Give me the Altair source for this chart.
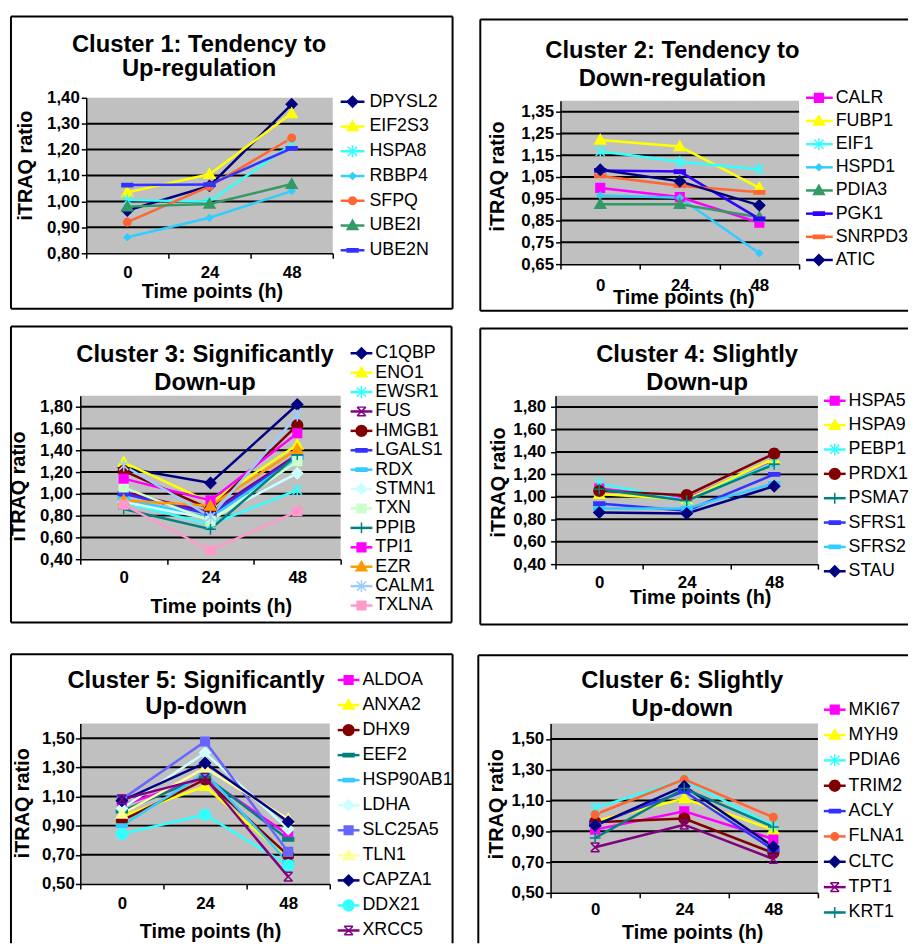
import math
import altair as alt
import pandas as pd

FONT = "Liberation Sans, Arial, sans-serif"
GREY = "#C0C0C0"

time_labels = ["0", "24", "48"]

# ---------------- Cluster 1 ----------------
c1_title = ["Cluster 1: Tendency to", "Up-regulation"]
c1_genes = ["DPYSL2", "EIF2S3", "HSPA8", "RBBP4", "SFPQ", "UBE2I", "UBE2N"]
c1_t0 = [0.965, 1.035, 1.005, 0.862, 0.920, 0.980, 1.063]
c1_t24 = [1.060, 1.105, 1.000, 0.937, 1.058, 0.990, 1.065]
c1_t48 = [1.375, 1.340, 1.220, 1.040, 1.245, 1.067, 1.205]
c1_ydomain = [0.80, 1.40]
c1_yticks = [0.80, 0.90, 1.00, 1.10, 1.20, 1.30, 1.40]
c1_colors = ["#000080", "#FFFF00", "#33FFFF", "#33CCFF", "#FF6633", "#339966", "#3333FF"]
c1_markers = ["diamond", "triangle", "asterisk", "sdiamond", "circle", "triangle", "dash"]

# ---------------- Cluster 2 ----------------
c2_title = ["Cluster 2: Tendency to", "Down-regulation"]
c2_genes = ["CALR", "FUBP1", "EIF1", "HSPD1", "PDIA3", "PGK1", "SNRPD3", "ATIC"]
c2_t0 = [1.000, 1.220, 1.168, 0.965, 0.925, 1.080, 1.055, 1.083]
c2_t24 = [0.958, 1.190, 1.120, 0.955, 0.925, 1.075, 1.010, 1.030]
c2_t48 = [0.840, 1.000, 1.086, 0.700, 0.865, 0.858, 0.980, 0.920]
c2_ydomain = [0.65, 1.40]
c2_yticks = [0.65, 0.75, 0.85, 0.95, 1.05, 1.15, 1.25, 1.35]
c2_colors = ["#FF00FF", "#FFFF00", "#33FFFF", "#33CCFF", "#339966", "#3300FF", "#FF6633", "#000080"]
c2_markers = ["square", "triangle", "asterisk", "sdiamond", "triangle", "dash", "dash", "diamond"]

# ---------------- Cluster 3 ----------------
c3_title = ["Cluster 3: Significantly", "Down-up"]
c3_genes = ["C1QBP", "ENO1", "EWSR1", "FUS", "HMGB1", "LGALS1", "RDX",
            "STMN1", "TXN", "PPIB", "TPI1", "EZR", "CALM1", "TXLNA"]
c3_t0 = [1.24, 1.29, 0.92, 1.015, 1.21, 1.00, 0.955, 0.925, 1.06, 0.86, 1.14, 0.94, 1.26, 0.90]
c3_t24 = [1.10, 0.92, 0.72, 0.83, 0.86, 0.81, 0.78, 0.77, 0.75, 0.675, 0.94, 0.89, 0.79, 0.48]
c3_t48 = [1.82, 1.45, 1.035, 1.36, 1.63, 1.34, 1.33, 1.19, 1.30, 1.36, 1.556, 1.41, 1.72, 0.84]
c3_ydomain = [0.40, 1.90]
c3_yticks = [0.40, 0.60, 0.80, 1.00, 1.20, 1.40, 1.60, 1.80]
c3_colors = ["#000080", "#FFFF00", "#33FFFF", "#800080", "#800000", "#3333FF", "#33CCFF",
             "#CCFFFF", "#CCFFCC", "#008080", "#FF00FF", "#FF9900", "#99CCFF", "#FF99CC"]
c3_markers = ["diamond", "triangle", "asterisk", "xbar", "bigcircle", "dash", "dash",
              "diamond", "square", "plus", "square", "triangle", "asterisk", "square"]

# ---------------- Cluster 4 ----------------
c4_title = ["Cluster 4: Slightly", "Down-up"]
c4_genes = ["HSPA5", "HSPA9", "PEBP1", "PRDX1", "PSMA7", "SFRS1", "SFRS2", "STAU"]
c4_t0 = [1.074, 1.024, 1.120, 1.053, 1.068, 0.940, 0.896, 0.860]
c4_t24 = [0.985, 0.976, 0.965, 1.015, 0.965, 0.876, 0.896, 0.852]
c4_t48 = [1.326, 1.340, 1.305, 1.385, 1.290, 1.200, 1.120, 1.095]
c4_ydomain = [0.40, 1.90]
c4_yticks = [0.40, 0.60, 0.80, 1.00, 1.20, 1.40, 1.60, 1.80]
c4_colors = ["#FF00FF", "#FFFF00", "#33FFFF", "#800000", "#008080", "#3333FF", "#33CCFF", "#000080"]
c4_markers = ["square", "triangle", "asterisk", "bigcircle", "plus", "dash", "dash", "diamond"]

# ---------------- Cluster 5 ----------------
c5_title = ["Cluster 5: Significantly", "Up-down"]
c5_genes = ["ALDOA", "ANXA2", "DHX9", "EEF2", "HSP90AB1", "LDHA", "SLC25A5",
            "TLN1", "CAPZA1", "DDX21", "XRCC5"]
c5_t0 = [1.040, 0.963, 0.934, 1.000, 0.900, 1.018, 1.080, 0.980, 1.070, 0.843, 1.080]
c5_t24 = [1.230, 1.170, 1.217, 1.240, 1.260, 1.400, 1.477, 1.296, 1.330, 0.975, 1.228]
c5_t48 = [0.837, 0.674, 0.696, 0.805, 0.650, 0.877, 0.720, 0.945, 0.927, 0.628, 0.550]
c5_ydomain = [0.50, 1.60]
c5_yticks = [0.50, 0.70, 0.90, 1.10, 1.30, 1.50]
c5_colors = ["#FF00FF", "#FFFF00", "#800000", "#008080", "#33CCFF", "#CCFFFF",
             "#6666FF", "#FFFF99", "#000080", "#33FFFF", "#800080"]
c5_markers = ["square", "triangle", "bigcircle", "dash", "dash", "diamond",
              "square", "triangle", "diamond", "bigcircle", "xbar"]

# ---------------- Cluster 6 ----------------
c6_title = ["Cluster 6: Slightly", "Up-down"]
c6_genes = ["MKI67", "MYH9", "PDIA6", "TRIM28", "ACLY", "FLNA1", "CLTC", "TPT1", "KRT1"]
c6_t0 = [0.911, 0.965, 1.052, 0.959, 0.943, 1.009, 0.937, 0.796, 0.857]
c6_t24 = [1.030, 1.113, 1.233, 0.983, 1.160, 1.237, 1.193, 0.943, 1.178]
c6_t48 = [0.850, 0.910, 0.933, 0.759, 0.780, 0.991, 0.800, 0.720, 0.928]
c6_ydomain = [0.50, 1.60]
c6_yticks = [0.50, 0.70, 0.90, 1.10, 1.30, 1.50]
c6_colors = ["#FF00FF", "#FFFF00", "#33FFFF", "#800000", "#3333FF", "#FF6633",
             "#000080", "#800080", "#008080"]
c6_markers = ["square", "triangle", "asterisk", "bigcircle", "dash", "circle",
              "diamond", "xbar", "plus"]


# ---------------- marker glyphs (style) ----------------
def ngon(r, n=12):
    pts = [(r * math.cos(2 * math.pi * k / n), r * math.sin(2 * math.pi * k / n)) for k in range(n)]
    return "M" + "L".join(f"{x:.3f},{y:.3f}" for x, y in pts) + "Z"


MARKERS = {
    "diamond": "M0,-1L1,0L0,1L-1,0Z",
    "sdiamond": "M0,-0.6L0.6,0L0,0.6L-0.6,0Z",
    "triangle": "M0,-1L1,0.75L-1,0.75Z",
    "square": "M-0.8,-0.8L0.8,-0.8L0.8,0.8L-0.8,0.8Z",
    "circle": ngon(0.7),
    "bigcircle": ngon(1.0),
    "asterisk": "M-0.85,-0.85L0.85,0.85M-0.85,0.85L0.85,-0.85M0,-1.1L0,1.1",
    "plus": "M-1,0L1,0M0,-1L0,1",
    "dash": "M-1,-0.3L1,-0.3L1,0.3L-1,0.3Z",
    "xbar": "M-0.8,-0.8L0.8,0.8M-0.8,0.8L0.8,-0.8M-0.8,-0.8L0.8,-0.8M-0.8,0.8L0.8,0.8",
}

# ---------------- layout (page pixel geometry) ----------------
VX = [10, 482]
VW = [472, 434]
VY = [12, 320, 652]
VH = [308, 332, 296]

GEO = [
    dict(cell=(0, 0), border=(10, 12, 456, 307), sides="ltrb", grey=(86, 94, 335, 251),
         ylabpad=2, ytitle=(25, 162), xlabpad=8, xtitle=(213, 296), title=(200, 48, 72),
         legend=(98, 25.0, 343, 367, 355, 372), limit=0),
    dict(cell=(1, 0), border=(484, 15, None, 309), sides="ltb", grey=(565, 97, 806, 262),
         ylabpad=2, ytitle=(501, 173), xlabpad=10, xtitle=(689, 302), title=(678, 54, 82),
         legend=(94, 23.4, 813, 840, 826, 843), limit=75),
    dict(cell=(0, 1), border=(10, 325, 455, 624), sides="ltrb", grey=(80, 395, 343, 560),
         ylabpad=3, ytitle=(18, 486), xlabpad=7, xtitle=(222, 614), title=(206, 361, 389),
         legend=(352, 19.6, 353, 375, 364, 378), limit=0),
    dict(cell=(1, 1), border=(484, 327, None, 626), sides="ltb", grey=(560, 395, 825, 565),
         ylabpad=5, ytitle=(502, 482), xlabpad=7, xtitle=(706, 605), title=(703, 361, 389),
         legend=(400, 24.6, 831, 853, 842, 856), limit=62),
    dict(cell=(0, 2), border=(10, 656, 456, None), sides="ltr", grey=(80, 726, 332, 888),
         ylabpad=1, ytitle=(22, 806), xlabpad=8, xtitle=(211, 942), title=(197, 690, 716),
         legend=(682, 25.3, 340, 362, 351, 365), limit=0),
    dict(cell=(1, 2), border=(482, 657, None, None), sides="lt", grey=(555, 726, 825, 897),
         ylabpad=2, ytitle=(500, 807), xlabpad=5, xtitle=(698, 943), title=(688, 690, 718),
         legend=(712, 25.6, 831, 853, 842, 856), limit=62),
]

PANELS = [
    dict(title=c1_title, genes=c1_genes, t0=c1_t0, t24=c1_t24, t48=c1_t48, ydomain=c1_ydomain,
         yticks=c1_yticks, colors=c1_colors, markers=c1_markers),
    dict(title=c2_title, genes=c2_genes, t0=c2_t0, t24=c2_t24, t48=c2_t48, ydomain=c2_ydomain,
         yticks=c2_yticks, colors=c2_colors, markers=c2_markers),
    dict(title=c3_title, genes=c3_genes, t0=c3_t0, t24=c3_t24, t48=c3_t48, ydomain=c3_ydomain,
         yticks=c3_yticks, colors=c3_colors, markers=c3_markers),
    dict(title=c4_title, genes=c4_genes, t0=c4_t0, t24=c4_t24, t48=c4_t48, ydomain=c4_ydomain,
         yticks=c4_yticks, colors=c4_colors, markers=c4_markers),
    dict(title=c5_title, genes=c5_genes, t0=c5_t0, t24=c5_t24, t48=c5_t48, ydomain=c5_ydomain,
         yticks=c5_yticks, colors=c5_colors, markers=c5_markers),
    dict(title=c6_title, genes=c6_genes, t0=c6_t0, t24=c6_t24, t48=c6_t48, ydomain=c6_ydomain,
         yticks=c6_yticks, colors=c6_colors, markers=c6_markers),
]

X_LABEL_EXPR = " : ".join(f"datum.value === {i} ? '{lab}'" for i, lab in enumerate(time_labels)) + " : ''"

TICK_FS = 17
TITLE_FS = 24
LEGEND_FS = 18
MARK_SIZE = 120


def panel_chart(p, g):
    col, row = g["cell"]
    ox, oy, W, H = VX[col], VY[row], VW[col], VH[row]
    gx0, gy0, gx1, gy1 = g["grey"]
    gx0, gx1 = gx0 - ox, gx1 - ox
    gy0, gy1 = gy0 - oy, gy1 - oy
    genes = p["genes"]
    n = len(genes)
    ymin, ymax = p["ydomain"]

    xs = alt.Scale(domain=[-0.5, 2.5], range=[gx0, gx1], nice=False, zero=False)
    ys = alt.Scale(domain=[ymin, ymax], range=[gy1, gy0], nice=False, zero=False)
    cs = alt.Scale(domain=genes, range=p["colors"])
    ss = alt.Scale(domain=genes, range=[MARKERS[m] for m in p["markers"]])

    xax = alt.Axis(
        values=[-0.5, 0, 0.5, 1, 1.5, 2, 2.5], labelExpr=X_LABEL_EXPR, orient="bottom",
        offset=gy1 - H, tickSize=5, tickColor="black", tickWidth=1.5,
        tickOpacity={"condition": {"test": "datum.value % 1 === 0", "value": 0}, "value": 1},
        domainColor="black", domainWidth=1.5, grid=False,
        labelFont=FONT, labelFontSize=TICK_FS, labelFontWeight="bold", labelColor="black",
        labelPadding=g["xlabpad"] - 1, labelOverlap=False, labelFlush=False, labelAngle=0,
        title="Time points (h)", titleFont=FONT, titleFontSize=20, titleFontWeight="bold",
        titleColor="black", titleAngle=0, titleAlign="center", titleBaseline="alphabetic",
        titleX=g["xtitle"][0] - ox, titleY=g["xtitle"][1] - oy - gy1, zindex=1,
    )
    yax = alt.Axis(
        values=p["yticks"], labelExpr="replace(format(datum.value, '.2f'), '.', ',')",
        orient="left", offset=-gx0, tickSize=5, tickColor="black", tickWidth=1.5,
        domainColor="black", domainWidth=1.5, grid=False,
        labelFont=FONT, labelFontSize=TICK_FS, labelFontWeight="bold", labelColor="black",
        labelPadding=g["ylabpad"], labelOverlap=False, labelFlush=False,
        title="iTRAQ ratio", titleFont=FONT, titleFontSize=20, titleFontWeight="bold",
        titleColor="black", titleAngle=270, titleAlign="center", titleBaseline="middle",
        titleX=g["ytitle"][0] - ox - gx0, titleY=g["ytitle"][1] - oy, zindex=1,
    )

    one = pd.DataFrame({"k": [0]})
    grey = alt.Chart(one).mark_rect(color=GREY).encode(
        x=alt.XDatum(-0.5, type="quantitative", scale=xs, axis=xax),
        x2=alt.X2Datum(2.5),
        y=alt.YDatum(ymin, type="quantitative", scale=ys, axis=yax),
        y2=alt.Y2Datum(ymax),
    )
    gvals = [v for v in p["yticks"] if ymin + 1e-9 < v < ymax - 1e-9]
    grid = alt.Chart(pd.DataFrame({"gv": gvals})).mark_rule(color="black", strokeWidth=2).encode(
        x=alt.XDatum(-0.5, type="quantitative", scale=xs, axis=xax),
        x2=alt.X2Datum(2.5),
        y=alt.Y("gv:Q", scale=ys, axis=yax),
    )
    long = pd.DataFrame({
        "gene": genes * 3,
        "ti": [0] * n + [1] * n + [2] * n,
        "val": p["t0"] + p["t24"] + p["t48"],
    })
    xenc = alt.X("ti:Q", scale=xs, axis=xax)
    yenc = alt.Y("val:Q", scale=ys, axis=yax)
    color = alt.Color("gene:N", scale=cs, legend=None)
    stroke = alt.Stroke("gene:N", scale=cs, legend=None)
    shape = alt.Shape("gene:N", scale=ss, legend=None)
    lines = alt.Chart(long).mark_line(strokeWidth=2.5).encode(x=xenc, y=yenc, color=color)
    pts = alt.Chart(long).mark_point(filled=True, size=MARK_SIZE, strokeWidth=1.5, opacity=1).encode(
        x=xenc, y=yenc, color=color, stroke=stroke, shape=shape)
    plot = alt.layer(grey, grid, lines, pts)

    # legend built from marks
    ly0, sp, lx0, lx1, lm, tx = g["legend"]
    leg = pd.DataFrame({"gene": genes, "li": list(range(n))})
    lys = alt.Scale(domain=[0, n - 1], range=[ly0 - oy, ly0 - oy + (n - 1) * sp], nice=False, zero=False)
    ly = alt.Y("li:Q", scale=lys, axis=None)
    lrule = alt.Chart(leg).mark_rule(strokeWidth=2.5).encode(
        x=alt.value(lx0 - ox), x2=alt.value(lx1 - ox), y=ly, color=color)
    lpt = alt.Chart(leg).mark_point(filled=True, size=MARK_SIZE, strokeWidth=1.5, opacity=1).encode(
        x=alt.value(lm - ox), y=ly, color=color, stroke=stroke, shape=shape)
    tkw = dict(align="left", baseline="middle", font=FONT, fontSize=LEGEND_FS, color="black")
    if g["limit"]:
        tkw.update(limit=g["limit"], ellipsis="\u200b")
    ltxt = alt.Chart(leg).mark_text(**tkw).encode(x=alt.value(tx - ox), y=ly, text="gene:N")
    legend = alt.layer(lrule, lpt, ltxt)

    # title lines
    tcx, tb1, tb2 = g["title"]
    tstyle = dict(font=FONT, fontSize=TITLE_FS, fontWeight="bold", align="center",
                  baseline="alphabetic", color="black")
    t1 = alt.Chart(one).mark_text(**tstyle).encode(
        x=alt.value(tcx - ox), y=alt.value(tb1 - oy), text=alt.value(p["title"][0]))
    t2 = alt.Chart(one).mark_text(**tstyle).encode(
        x=alt.value(tcx - ox), y=alt.value(tb2 - oy), text=alt.value(p["title"][1]))

    # frame around the panel
    bl, bt, br, bb = g["border"]
    L = bl - ox
    T = bt - oy
    R = (br - ox) if br is not None else W
    B = (bb - oy) if bb is not None else H
    segs = {"l": (L, T, L, B), "t": (L, T, R, T), "r": (R, T, R, B), "b": (L, B, R, B)}
    borders = []
    for s in g["sides"]:
        a, b, c, d = segs[s]
        borders.append(alt.Chart(one).mark_rule(color="black", strokeWidth=2).encode(
            x=alt.value(a), y=alt.value(b), x2=alt.value(c), y2=alt.value(d)))
    deco = alt.layer(t1, t2, *borders)

    return alt.layer(plot, legend, deco).resolve_scale(y="independent").properties(width=W, height=H)


charts = [panel_chart(p, g) for p, g in zip(PANELS, GEO)]
chart = alt.concat(*charts, columns=2, spacing=0, bounds="flush", align="each").resolve_scale(
    color="independent", stroke="independent", shape="independent"
).properties(
    padding={"left": 1, "top": 3, "right": 0, "bottom": 0},
    background="white",
).configure_view(strokeWidth=0)

chart.save("out.html", embed_options={"renderer": "svg", "actions": False})
